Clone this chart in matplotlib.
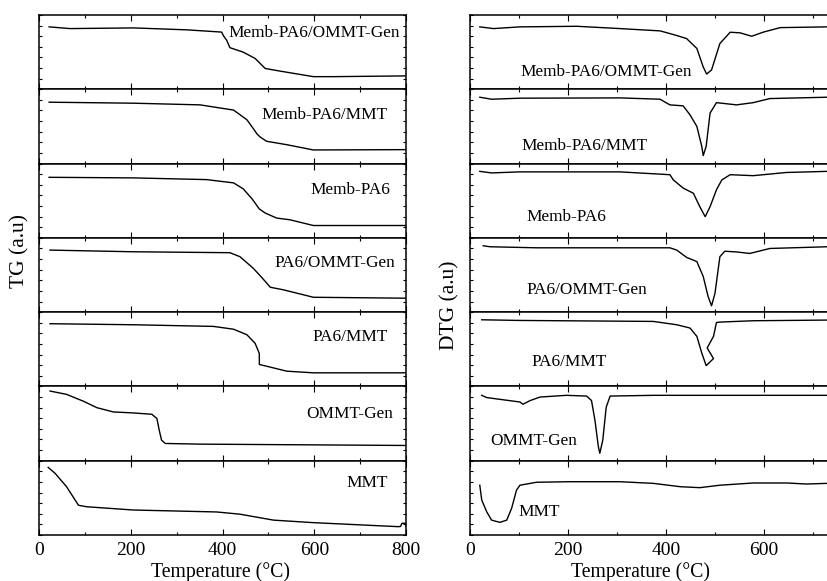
import numpy as np
import matplotlib
matplotlib.use("Agg")
from matplotlib import pyplot as plt
from matplotlib.ticker import MultipleLocator

plt.rcParams["font.family"] = ["Liberation Serif", "DejaVu Serif"]

samples = ["Memb-PA6/OMMT-Gen", "Memb-PA6/MMT", "Memb-PA6", "PA6/OMMT-Gen",
           "PA6/MMT", "OMMT-Gen", "MMT"]

# TG curves (temperature, normalised signal within each panel)
tg_memb_ommt_x = [22, 68, 206, 322, 398, 402, 409, 416, 445, 471, 493, 525, 598, 642, 800]
tg_memb_ommt_y = [0.84, 0.817, 0.826, 0.80, 0.77, 0.72, 0.66, 0.56, 0.50, 0.415, 0.28, 0.245, 0.17, 0.17, 0.18]
tg_memb_mmt_x = [22, 206, 351, 424, 453, 466, 475, 482, 496, 540, 598, 800]
tg_memb_mmt_y = [0.826, 0.8125, 0.79, 0.72, 0.59, 0.48, 0.40, 0.357, 0.30, 0.254, 0.183, 0.1875]
tg_memb_x = [22, 206, 365, 424, 445, 465, 480, 493, 518, 547, 598, 800]
tg_memb_y = [0.815, 0.807, 0.784, 0.74, 0.66, 0.52, 0.39, 0.334, 0.266, 0.243, 0.166, 0.166]
tg_pa6_ommt_x = [24, 206, 416, 438, 467, 482, 495, 504, 533, 598, 800]
tg_pa6_ommt_y = [0.835, 0.8125, 0.80, 0.746, 0.59, 0.49, 0.40, 0.335, 0.30, 0.20, 0.1875]
tg_pa6_mmt_x = [24, 206, 380, 424, 453, 471, 480, 480.3, 496, 540, 598, 800]
tg_pa6_mmt_y = [0.844, 0.83, 0.808, 0.77, 0.696, 0.58, 0.446, 0.295, 0.272, 0.205, 0.183, 0.183]
tg_ommt_x = [24, 60, 97, 126, 162, 206, 246, 257, 262, 267, 275, 351, 800]
tg_ommt_y = [0.9375, 0.893, 0.80, 0.714, 0.656, 0.643, 0.625, 0.567, 0.41, 0.277, 0.232, 0.223, 0.205]
tg_mmt_x = [20, 35, 60, 86, 104, 206, 387, 438, 511, 598, 783, 788, 791, 798, 800]
tg_mmt_y = [0.91, 0.83, 0.65, 0.40, 0.38, 0.336, 0.31, 0.28, 0.20, 0.166, 0.112, 0.115, 0.157, 0.157, 0.12]

# DTG curves
dtg_memb_ommt_x = [20, 48, 102, 218, 306, 388, 415, 442, 463, 476, 483, 493, 510, 531, 551, 575, 599, 633, 729]
dtg_memb_ommt_y = [0.84, 0.817, 0.84, 0.848, 0.817, 0.786, 0.737, 0.683, 0.55, 0.30, 0.205, 0.26, 0.616, 0.768, 0.76, 0.714, 0.77, 0.83, 0.84]
dtg_memb_mmt_x = [20, 44, 102, 306, 388, 408, 435, 449, 463, 473, 476, 482, 490, 503, 544, 578, 612, 729]
dtg_memb_mmt_y = [0.893, 0.866, 0.88, 0.884, 0.866, 0.79, 0.777, 0.656, 0.5, 0.232, 0.107, 0.232, 0.68, 0.82, 0.79, 0.82, 0.875, 0.893]
dtg_memb_x = [20, 44, 102, 306, 408, 415, 435, 456, 469, 480, 490, 503, 514, 531, 578, 646, 729]
dtg_memb_y = [0.895, 0.874, 0.888, 0.888, 0.85, 0.78, 0.67, 0.60, 0.42, 0.285, 0.42, 0.647, 0.78, 0.85, 0.837, 0.88, 0.895]
dtg_pa6_ommt_x = [27, 41, 136, 408, 422, 442, 463, 476, 486, 493, 500, 510, 520, 544, 571, 612, 729]
dtg_pa6_ommt_y = [0.893, 0.88, 0.866, 0.866, 0.835, 0.737, 0.68, 0.48, 0.21, 0.085, 0.254, 0.746, 0.82, 0.81, 0.79, 0.857, 0.88]
dtg_pa6_mmt_x = [24, 102, 374, 422, 449, 463, 473, 482, 497, 484, 497, 503, 510, 578, 729]
dtg_pa6_mmt_y = [0.897, 0.888, 0.875, 0.83, 0.786, 0.674, 0.45, 0.28, 0.375, 0.518, 0.674, 0.86, 0.866, 0.884, 0.893]
dtg_ommt_x = [24, 34, 102, 108, 123, 143, 197, 238, 248, 255, 262, 265, 271, 278, 286, 374, 729]
dtg_ommt_y = [0.88, 0.85, 0.79, 0.76, 0.81, 0.857, 0.88, 0.87, 0.81, 0.545, 0.19, 0.10, 0.277, 0.72, 0.87, 0.88, 0.88]
dtg_mmt_x = [20, 24, 34, 44, 61, 75, 85, 95, 102, 136, 204, 306, 374, 429, 469, 510, 578, 646, 687, 729]
dtg_mmt_y = [0.67, 0.47, 0.314, 0.20, 0.17, 0.20, 0.36, 0.605, 0.67, 0.71, 0.717, 0.717, 0.695, 0.65, 0.637, 0.67, 0.70, 0.70, 0.686, 0.695]

tg_curves = [(tg_memb_ommt_x, tg_memb_ommt_y), (tg_memb_mmt_x, tg_memb_mmt_y),
             (tg_memb_x, tg_memb_y), (tg_pa6_ommt_x, tg_pa6_ommt_y),
             (tg_pa6_mmt_x, tg_pa6_mmt_y), (tg_ommt_x, tg_ommt_y), (tg_mmt_x, tg_mmt_y)]
dtg_curves = [(dtg_memb_ommt_x, dtg_memb_ommt_y), (dtg_memb_mmt_x, dtg_memb_mmt_y),
              (dtg_memb_x, dtg_memb_y), (dtg_pa6_ommt_x, dtg_pa6_ommt_y),
              (dtg_pa6_mmt_x, dtg_pa6_mmt_y), (dtg_ommt_x, dtg_ommt_y), (dtg_mmt_x, dtg_mmt_y)]

# label positions (axes fraction)
tg_label_pos = [(0.984, 0.76), (0.951, 0.65), (0.956, 0.64), (0.97, 0.66),
                (0.951, 0.67), (0.965, 0.635), (0.951, 0.70)]
dtg_label_pos = [(0.128, 0.234), (0.132, 0.243), (0.145, 0.284), (0.145, 0.30),
                 (0.157, 0.33), (0.051, 0.27), (0.123, 0.31)]

tick_vals = [0, 200, 400, 600, 800]
tg_tick_labels = ["0", "200", "400", "600", "800"]
dtg_tick_labels = ["0", "200", "400", "600", ""]

fig = plt.figure(figsize=(8.27, 5.81), dpi=100)

n = len(samples)
bottom = 0.0792
total_h = 0.895
h = total_h / n


def style_axis(ax, last, labels):
    ax.set_xlim(0, 800)
    ax.set_ylim(0, 1)
    ax.set_xticks(tick_vals, labels)
    ax.xaxis.set_minor_locator(MultipleLocator(100))
    ax.set_yticks([])
    ax.yaxis.set_minor_locator(MultipleLocator(1 / 7))
    ax.tick_params(which="both", direction="in", top=True, bottom=True,
                   left=True, right=True, width=0.8)
    ax.tick_params(which="major", length=4)
    ax.tick_params(which="minor", length=2.5)
    ax.tick_params(axis="x", labelsize=14, pad=5)
    for s in ax.spines.values():
        s.set_linewidth(1.1)
    if not last:
        ax.tick_params(axis="x", labelbottom=False)


for i in range(n):
    y0 = bottom + (n - 1 - i) * h
    last = i == n - 1

    ax = fig.add_axes([0.0472, y0, 0.4438, h])
    style_axis(ax, last, tg_tick_labels)
    ax.plot(tg_curves[i][0], tg_curves[i][1], color="black", lw=1.0)
    lx, ly = tg_label_pos[i]
    ax.text(lx, ly, samples[i], transform=ax.transAxes, ha="right", va="center",
            fontsize=12.4)

    ax2 = fig.add_axes([0.5683, y0, 0.474, h])
    style_axis(ax2, last, dtg_tick_labels)
    ax2.plot(dtg_curves[i][0], dtg_curves[i][1], color="black", lw=1.0)
    lx, ly = dtg_label_pos[i]
    ax2.text(lx, ly, samples[i], transform=ax2.transAxes, ha="left", va="center",
             fontsize=12.4)

fig.text(0.267, 0.0074, "Temperature (\u00b0C)", ha="center", va="baseline", fontsize=14.2)
fig.text(0.774, 0.0074, "Temperature (\u00b0C)", ha="center", va="baseline", fontsize=14.2)
fig.text(0.024, 0.568, "TG (a.u)", rotation=90, ha="center", va="center", fontsize=15.5)
fig.text(0.544, 0.474, "DTG (a.u)", rotation=90, ha="center", va="center", fontsize=15.5)

fig.savefig("out.png", dpi=100)
